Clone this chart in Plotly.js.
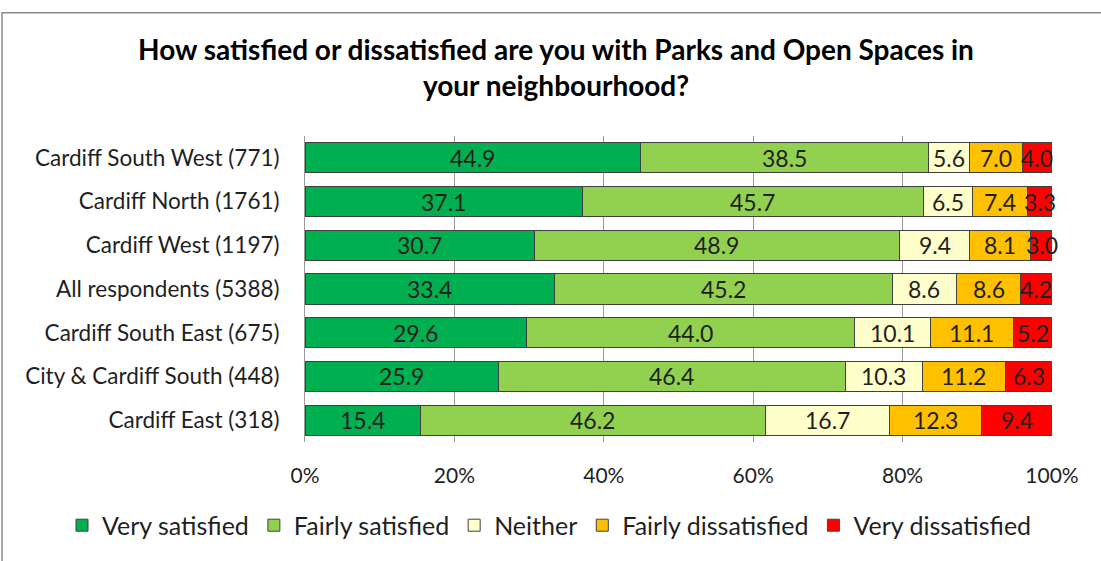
<!DOCTYPE html>
<html>
<head>
<meta charset="utf-8">
<script src="https://cdn.plot.ly/plotly-3.0.1.min.js"></script>
<style>
html,body{margin:0;padding:0;background:#fff;}
#chart{width:1101px;height:561px;}
</style>
</head>
<body>
<div id="chart"></div>
<script>
const categories = [
  "Cardiff South West (771)",
  "Cardiff North (1761)",
  "Cardiff West (1197)",
  "All respondents (5388)",
  "Cardiff South East (675)",
  "City & Cardiff South (448)",
  "Cardiff East (318)"
];
const seriesNames = ["Very satisfied", "Fairly satisfied", "Neither", "Fairly dissatisfied", "Very dissatisfied"];
const verySatisfied      = [44.9, 37.1, 30.7, 33.4, 29.6, 25.9, 15.4];
const fairlySatisfied    = [38.5, 45.7, 48.9, 45.2, 44.0, 46.4, 46.2];
const neither            = [5.6, 6.5, 9.4, 8.6, 10.1, 10.3, 16.7];
const fairlyDissatisfied = [7.0, 7.4, 8.1, 8.6, 11.1, 11.2, 12.3];
const veryDissatisfied   = [4.0, 3.3, 3.0, 4.2, 5.2, 6.3, 9.4];
const tickValues = [0, 20, 40, 60, 80, 100];
const tickLabels = ["0%", "20%", "40%", "60%", "80%", "100%"];

const seriesValues = [verySatisfied, fairlySatisfied, neither, fairlyDissatisfied, veryDissatisfied];
const colors = ["#00B050", "#92D050", "#FFFFCC", "#FFC000", "#FF0000"];
const FONT = "Lato, 'Open Sans', sans-serif";
const TEXT = "#1f1f1f";

const traces = seriesValues.map((vals, i) => ({
  type: "bar",
  orientation: "h",
  name: seriesNames[i],
  y: categories,
  x: vals,
  textposition: "none",
  hoverinfo: "name+x",
  marker: {color: colors[i], line: {color: "#404040", width: 1}}
}));

// value labels centred in each segment (positions derived from the data)
const annotations = [];
categories.forEach((cat, r) => {
  let cum = 0;
  seriesValues.forEach(vals => {
    const v = vals[r];
    annotations.push({
      x: cum + v / 2, y: cat, xref: "x", yref: "y",
      text: v.toFixed(1), showarrow: false,
      font: {family: FONT, size: 23, color: TEXT},
      xanchor: "center", yanchor: "middle"
    });
    cum += v;
  });
});

const layout = {
  width: 1101,
  height: 561,
  paper_bgcolor: "#ffffff",
  plot_bgcolor: "#ffffff",
  margin: {l: 305, r: 49, t: 136, b: 117},
  barmode: "stack",
  bargap: 0.31,
  font: {family: FONT, color: TEXT},
  title: {
    text: "<b>How satisfied or dissatisfied are you with Parks and Open Spaces in<br>your neighbourhood?</b>",
    font: {family: FONT, size: 28, color: "#000"},
    xref: "container", x: 0.505, xanchor: "center",
    yref: "container", y: 0.893, yanchor: "top"
  },
  xaxis: {
    range: [0, 100],
    tickvals: tickValues,
    ticktext: tickLabels,
    tickfont: {family: FONT, size: 21, color: TEXT},
    showgrid: true,
    gridcolor: "#9a9a9a",
    gridwidth: 1,
    zeroline: false,
    showline: false,
    ticks: "outside",
    ticklen: 15,
    tickcolor: "rgba(0,0,0,0)",
    fixedrange: true
  },
  yaxis: {
    categoryorder: "array",
    categoryarray: categories.slice().reverse(),
    autorange: true,
    tickfont: {family: FONT, size: 22.5, color: TEXT},
    showline: true,
    linecolor: "#9a9a9a",
    linewidth: 1,
    ticks: "outside",
    ticklen: 20,
    tickcolor: "rgba(0,0,0,0)",
    showgrid: false,
    fixedrange: true
  },
  legend: {
    orientation: "h",
    xref: "paper", x: -0.3253, xanchor: "left",
    yref: "paper", y: -0.2727, yanchor: "middle",
    font: {family: FONT, size: 25, color: TEXT},
    traceorder: "normal",
    itemwidth: 30
  },
  annotations: annotations,
  shapes: [{
    type: "rect",
    xref: "paper", yref: "paper",
    x0: -0.4056, x1: 1.08, y0: -0.42, y1: 1.4026,
    line: {color: "#8c8c8c", width: 1.5},
    fillcolor: "rgba(0,0,0,0)",
    layer: "above"
  }],
  showlegend: true
};

Plotly.newPlot("chart", traces, layout, {displayModeBar: false, staticPlot: true});
</script>
</body>
</html>
